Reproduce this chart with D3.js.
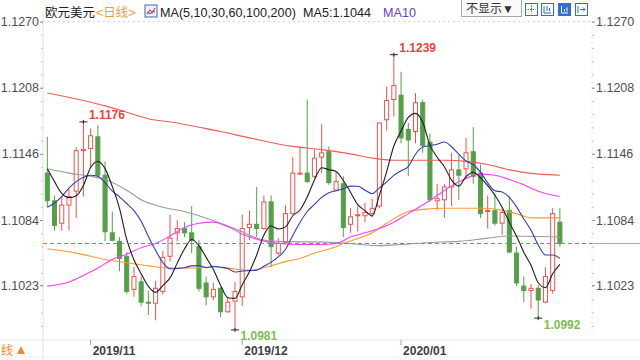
<!DOCTYPE html>
<html><head><meta charset="utf-8">
<script src="https://cdn.jsdelivr.net/npm/d3@7/dist/d3.min.js"></script>
<style>html,body{margin:0;padding:0;background:#fff;overflow:hidden} svg{display:block}</style>
</head><body><svg id="c" width="640" height="360"></svg>
<script>
// ---------- data ----------
const dates = [
 "2019-10-24","2019-10-25","2019-10-28","2019-10-29","2019-10-30","2019-10-31",
 "2019-11-01","2019-11-04","2019-11-05","2019-11-06","2019-11-07","2019-11-08","2019-11-11","2019-11-12","2019-11-13","2019-11-14","2019-11-15","2019-11-18","2019-11-19","2019-11-20","2019-11-21","2019-11-22","2019-11-25","2019-11-26","2019-11-27","2019-11-28","2019-11-29",
 "2019-12-02","2019-12-03","2019-12-04","2019-12-05","2019-12-06","2019-12-09","2019-12-10","2019-12-11","2019-12-12","2019-12-13","2019-12-16","2019-12-17","2019-12-18","2019-12-19","2019-12-20","2019-12-23","2019-12-24","2019-12-25","2019-12-26","2019-12-27","2019-12-30","2019-12-31",
 "2020-01-01","2020-01-02","2020-01-03","2020-01-06","2020-01-07","2020-01-08","2020-01-09","2020-01-10","2020-01-13","2020-01-14","2020-01-15","2020-01-16","2020-01-17","2020-01-20","2020-01-21","2020-01-22","2020-01-23","2020-01-24","2020-01-27","2020-01-28","2020-01-29","2020-01-30","2020-01-31"
];
const open = [1.1128,1.1102,1.1081,1.1098,1.1111,1.1149,1.1151,1.1162,1.1126,1.1072,1.1064,1.1050,1.1019,1.1026,1.1007,1.1006,1.1017,1.1050,1.1072,1.1076,1.1072,1.1059,1.1025,1.1012,1.1020,1.0998,1.1008,1.1012,1.1077,1.1080,1.1076,1.1101,1.1053,1.1063,1.1090,1.1127,1.1128,1.1125,1.1143,1.1148,1.1112,1.1118,1.1080,1.1088,1.1088,1.1090,1.1097,1.1178,1.1197,1.1201,1.1169,1.1167,1.1194,1.1157,1.1102,1.1103,1.1115,1.1131,1.1132,1.1148,1.1128,1.1092,1.1093,1.1081,1.1093,1.1053,1.1022,1.1018,1.1020,1.1007,1.1018,1.1082];
const high = [1.1162,1.1107,1.1106,1.1113,1.1152,1.1176,1.1170,1.1173,1.1139,1.1092,1.1068,1.1054,1.1040,1.1031,1.1018,1.1027,1.1055,1.1089,1.1084,1.1082,1.1097,1.1065,1.1031,1.1025,1.1021,1.1012,1.1026,1.1089,1.1093,1.1115,1.1107,1.1107,1.1067,1.1098,1.1143,1.1153,1.1197,1.1150,1.1174,1.1153,1.1129,1.1125,1.1095,1.1097,1.1100,1.1104,1.1175,1.1209,1.1239,1.1223,1.1175,1.1203,1.1197,1.1165,1.1118,1.1118,1.1147,1.1145,1.1161,1.1171,1.1136,1.1107,1.1109,1.1095,1.1106,1.1059,1.1031,1.1024,1.1023,1.1040,1.1095,1.1095];
const low = [1.1096,1.1074,1.1074,1.1074,1.1086,1.1106,1.1133,1.1124,1.1064,1.1064,1.1036,1.1015,1.1012,1.1003,1.0995,1.0990,1.1014,1.1045,1.1064,1.1068,1.1053,1.1017,1.1004,1.1009,1.0993,1.0997,1.0981,1.1003,1.1065,1.1068,1.1075,1.1040,1.1051,1.1062,1.1089,1.1126,1.1119,1.1123,1.1128,1.1117,1.1111,1.1068,1.1072,1.1073,1.1082,1.1087,1.1095,1.1168,1.1181,1.1156,1.1125,1.1156,1.1147,1.1101,1.1093,1.1086,1.1097,1.1103,1.1122,1.1118,1.1086,1.1076,1.1079,1.1070,1.1053,1.1022,1.1007,1.1001,1.0992,1.1006,1.1015,1.1059];
const close = [1.1102,1.1079,1.1098,1.1106,1.1149,1.1150,1.1163,1.1126,1.1073,1.1065,1.1048,1.1017,1.1031,1.1007,1.1006,1.1020,1.1049,1.1067,1.1076,1.1072,1.1065,1.1020,1.1012,1.1019,1.0998,1.1007,1.1017,1.1076,1.1080,1.1076,1.1101,1.1059,1.1062,1.1090,1.1128,1.1128,1.1120,1.1142,1.1147,1.1119,1.1120,1.1077,1.1087,1.1089,1.1091,1.1095,1.1175,1.1196,1.1210,1.1161,1.1159,1.1194,1.1154,1.1103,1.1104,1.1115,1.1131,1.1126,1.1147,1.1125,1.1090,1.1093,1.1081,1.1091,1.1054,1.1025,1.1018,1.1020,1.1009,1.1031,1.1090,1.1062];

// MA5 / MA10 values before enough closes are on screen
const ma5Lead = [1.1132,1.1120,1.1109,1.1105];
const ma10Lead = [1.1096,1.1100,1.1106,1.1114,1.1120,1.1124,1.1126,1.1125,1.1119];
// long moving averages: [candle index, value]
const ma30 = [[0,1.1022],[3,1.1026],[5,1.1032],[7,1.1039],[9,1.1047],[11,1.1052],[13,1.1058],[15,1.1062],[17,1.1069],[19,1.1077],[21,1.1081],[23,1.1082],[25,1.1078],[27,1.1071],[29,1.1066],[31,1.1063],[35,1.1061],[38,1.1061],[40,1.1062],[42,1.1068],[44,1.1072],[46,1.1076],[48,1.1082],[50,1.1090],[52,1.1098],[54,1.1107],[56,1.1116],[58,1.1123],[60,1.1127],[62,1.1126],[64,1.1122],[66,1.1117],[68,1.1111],[71,1.1106]];
const ma60 = [[0,1.1057],[4,1.1053],[8,1.1047],[11,1.1044],[14,1.1041],[17,1.1039],[20,1.1039],[23,1.1040],[26,1.1038],[28,1.1037],[31,1.1041],[33,1.1045],[35,1.1048],[37,1.1053],[40,1.1059],[41,1.1062],[45,1.1072],[47,1.1081],[50,1.1092],[52,1.1094],[55,1.1095],[58,1.1095],[61,1.1095],[63,1.1093],[65,1.1090],[67,1.1086],[71,1.1086]];
const ma100 = [[0,1.1132],[3,1.1128],[6,1.1125],[8,1.1122],[11,1.1112],[13,1.1103],[16,1.1096],[19,1.1092],[21,1.1088],[24,1.1081],[27,1.1073],[29,1.1067],[32,1.1064],[40,1.1063],[46,1.1060],[49,1.1061],[53,1.1063],[57,1.1064],[61,1.1067],[64,1.1069],[71,1.1068]];
const ma200 = [[0,1.1203],[5,1.1196],[8,1.1191],[11,1.1185],[14,1.1179],[18,1.1175],[21,1.1171],[24,1.1167],[28,1.1161],[34,1.1153],[38,1.1150],[42,1.1146],[45,1.1142],[48,1.1140],[52,1.1140],[55,1.1140],[58,1.1139],[61,1.1136],[64,1.1131],[68,1.1127],[71,1.1126]];

const yTicks = [1.1270,1.1208,1.1146,1.1084,1.1023];
const xTickDates = ["2019-11-01","2019-12-02","2020-01-01"];
const xTickLabels = ["2019/11","2019/12","2020/01"];
const extremes = [
  {date:"2019-10-31", value:1.1176, kind:"high"},
  {date:"2019-12-31", value:1.1239, kind:"high"},
  {date:"2019-11-29", value:1.0981, kind:"low"},
  {date:"2020-01-28", value:1.0992, kind:"low"}
];
const lastPrice = 1.1062;

// ---------- chart ----------
const svg = d3.select("#c");
const RED = "#ea5450", GREEN = "#54a048";
const L = 43, R = 592, TOP = 21.6, BOT = 339;

const x = d3.scaleBand().domain(dates).range([43.7, 563.5]).paddingInner(0.3).paddingOuter(0.15);
const cx = d => x(d) + x.bandwidth()/2;
const y = d3.scaleLinear().domain([1.1023, 1.1270]).range([285.1, 21.6]);

svg.append("rect").attr("width",640).attr("height",360).attr("fill","#fff");

// frame lines
svg.append("line").attr("x1",L).attr("x2",R).attr("y1",TOP).attr("y2",TOP)
  .attr("stroke","#cfd6de").attr("stroke-dasharray","2,3");
svg.append("line").attr("x1",R).attr("x2",R).attr("y1",TOP).attr("y2",BOT)
  .attr("stroke","#dfe4ea").attr("stroke-dasharray","2,3");
svg.append("line").attr("x1",0).attr("x2",640).attr("y1",BOT+1).attr("y2",BOT+1).attr("stroke","#e3e7ec");
svg.append("line").attr("x1",0).attr("x2",640).attr("y1",357).attr("y2",357).attr("stroke","#eceff2");

// minor ticks
const step = (yTicks[0]-yTicks[1])/5;
const minor = d3.range(-1, 24).map(k => yTicks[0] - k*step).filter(v => y(v) > 12 && y(v) < BOT);

function yAxis(gen, xpos) {
  const g = svg.append("g").attr("transform",`translate(${xpos},0)`);
  g.call(gen(y).tickValues(minor).tickSize(2).tickFormat(""));
  g.select(".domain").remove();
  g.selectAll("line").attr("stroke","#b9c7d6");
  const g2 = svg.append("g").attr("transform",`translate(${xpos},0)`);
  g2.call(gen(y).tickValues(yTicks).tickSize(3).tickPadding(1).tickFormat(d3.format(".4f")));
  g2.select(".domain").remove();
  g2.selectAll("line").attr("stroke","#8a96a3");
  g2.selectAll("text").attr("font-family","'Liberation Sans',Arial,sans-serif")
    .attr("font-size","12.5px").attr("fill","#4a4f57");
}
svg.append("line").attr("x1",L).attr("x2",L).attr("y1",12).attr("y2",360).attr("stroke","#dbe3ec");
yAxis(d3.axisLeft, L);
yAxis(d3.axisRight, R);

// x axis
const gx = svg.append("g").attr("transform",`translate(0,${BOT+1})`)
  .call(d3.axisBottom(x).tickValues(xTickDates).tickSize(5)
    .tickFormat(d => xTickLabels[xTickDates.indexOf(d)]));
gx.select(".domain").remove();
gx.selectAll("line").attr("stroke","#9aa5b1");
gx.selectAll("text").attr("text-anchor","start").attr("x",2).attr("y",10.5).attr("dy","0.35em")
  .attr("font-family","'Liberation Sans',Arial,sans-serif").attr("font-size","12px")
  .attr("font-weight","bold").attr("fill","#3b3f46");

// candles
const candles = dates.map((d,i)=>({d, o:open[i], h:high[i], l:low[i], c:close[i], up: close[i] >= open[i]}));
const cg = svg.append("g");
cg.selectAll("line.w").data(candles).join("line")
  .attr("x1",d=>cx(d.d)).attr("x2",d=>cx(d.d))
  .attr("y1",d=>y(d.h)).attr("y2",d=>y(d.l))
  .attr("stroke",d=>d.up?RED:GREEN).attr("stroke-width",1);
cg.selectAll("rect").data(candles).join("rect")
  .attr("x",d=>x(d.d)+0.5).attr("width",x.bandwidth()-1)
  .attr("y",d=>y(Math.max(d.o,d.c)))
  .attr("height",d=>Math.max(1, Math.abs(y(d.o)-y(d.c))))
  .attr("fill",d=>d.up?"#fff":GREEN)
  .attr("stroke",d=>d.up?RED:GREEN).attr("stroke-width",1);

// moving averages
const rolling = (n, lead) => close.map((c,i) => i >= n-1 ? d3.mean(close.slice(i-n+1,i+1)) : lead[i]);
const ma5 = rolling(5, ma5Lead), ma10 = rolling(10, ma10Lead);
const lineIdx = d3.line().x(p=>cx(dates[p[0]])).y(p=>y(p[1])).curve(d3.curveMonotoneX);
const series = [
  {pts: ma200, col:"#ee5d55"},
  {pts: ma100, col:"#9b9b9b"},
  {pts: ma60,  col:"#ff9a30"},
  {pts: ma30,  col:"#ff3dff"},
  {pts: ma10.map((v,i)=>[i,v]), col:"#3a3ab5"},
  {pts: ma5.map((v,i)=>[i,v]),  col:"#1e1e1e"}
];
svg.append("g").selectAll("path").data(series).join("path")
  .attr("d",s=>lineIdx(s.pts)).attr("fill","none").attr("stroke",s=>s.col).attr("stroke-width",1.1);

// last price line
const ly = Math.round(y(lastPrice)) + 0.5;
svg.append("line").attr("x1",L).attr("x2",R).attr("y1",ly).attr("y2",ly)
  .attr("stroke","#3d9be9").attr("stroke-dasharray","4,3");
svg.append("line").attr("x1",R).attr("x2",640).attr("y1",ly).attr("y2",ly)
  .attr("stroke","#ff9a30");

// high / low markers
const eg = svg.append("g");
extremes.forEach(e => {
  const px = cx(e.date), py = y(e.value);
  eg.append("line").attr("x1",px-4).attr("x2",px+4).attr("y1",py).attr("y2",py).attr("stroke","#222");
  eg.append("line").attr("x1",px).attr("x2",px).attr("y1",py-2).attr("y2",py+2).attr("stroke","#222");
  eg.append("text").attr("x",px+5.5).attr("y", e.kind==="high" ? py-2.5 : py+10.5)
    .attr("font-family","'Liberation Sans',Arial,sans-serif").attr("font-size","12px").attr("font-weight","bold")
    .attr("fill", e.kind==="high" ? "#e8453f" : "#7cbd58").text(d3.format(".4f")(e.value));
});

// header
const hf = "'Liberation Sans','Noto Sans CJK SC',sans-serif";
const ht = (tx, xx, col, fs) => svg.append("text").attr("x",xx).attr("y",16.5).attr("font-family",hf)
  .attr("font-size",fs||"13px").attr("fill",col).text(tx);
ht("欧元美元",45,"#222","12.5px");
ht("<日线>",96,"#f39a3b","12.5px");
const ic = svg.append("g").attr("transform","translate(145,5)");
ic.append("rect").attr("width",12).attr("height",12).attr("fill","#eef2fb").attr("stroke","#4b63b8");
ic.append("polyline").attr("points","2,9 5,5 7,8 10,3").attr("fill","none").attr("stroke","#e2453c").attr("stroke-width",1.2);
ic.append("polyline").attr("points","2,7 5,9 8,6 10,7").attr("fill","none").attr("stroke","#3a56c8").attr("stroke-width",1);
ht("MA(5,10,30,60,100,200)",160,"#222","12.6px");
ht("MA5:1.1044",303,"#222","12.6px");
ht("MA10",383,"#6543c4","12.6px");

// buttons
svg.append("rect").attr("x",461.5).attr("y",-1).attr("width",60).attr("height",17.5)
  .attr("fill","#fafafa").attr("stroke","#a8a8a8");
svg.append("text").attr("x",466).attr("y",13).attr("font-family",hf).attr("font-size","12px").attr("fill","#333").text("不显示▼");
const bx = [525,541,558,575];
bx.forEach((bxx,k) => {
  const g = svg.append("g").attr("transform",`translate(${bxx},3)`);
  g.append("rect").attr("x",0.5).attr("y",0.5).attr("width",12).attr("height",12)
    .attr("fill", k===2 ? "#2f6fd0" : "#fff").attr("stroke","#2f6fd0");
  const c = k===2 ? "#fff" : "#2f6fd0";
  if (k===0) { g.append("path").attr("d","M6.5 2.5V10.5M2.5 6.5H10.5").attr("stroke",c).attr("stroke-dasharray","1.5,1"); }
  if (k===1) { g.append("path").attr("d","M3 3V10H10M6 3V8M8.5 5V8").attr("stroke",c).attr("fill","none"); }
  if (k===2) { g.append("path").attr("d","M3.5 3V10H10M6.5 6V8.5M9 4.5V8.5").attr("stroke",c).attr("fill","none"); }
  if (k===3) { g.append("path").attr("d","M3 3V10M5 6.5H10M8 4.5L10 6.5L8 8.5").attr("stroke",c).attr("fill","none"); }
});

// bottom-left label (cut in the original view)
svg.append("text").attr("x",1).attr("y",354.5).attr("font-family","'Noto Sans CJK SC',sans-serif")
  .attr("font-size","12px").attr("fill","#f08a24").text("线");
svg.append("path").attr("d","M17 354 L21 346 L25 354 Z").attr("fill","#f08a24");
</script></body></html>
